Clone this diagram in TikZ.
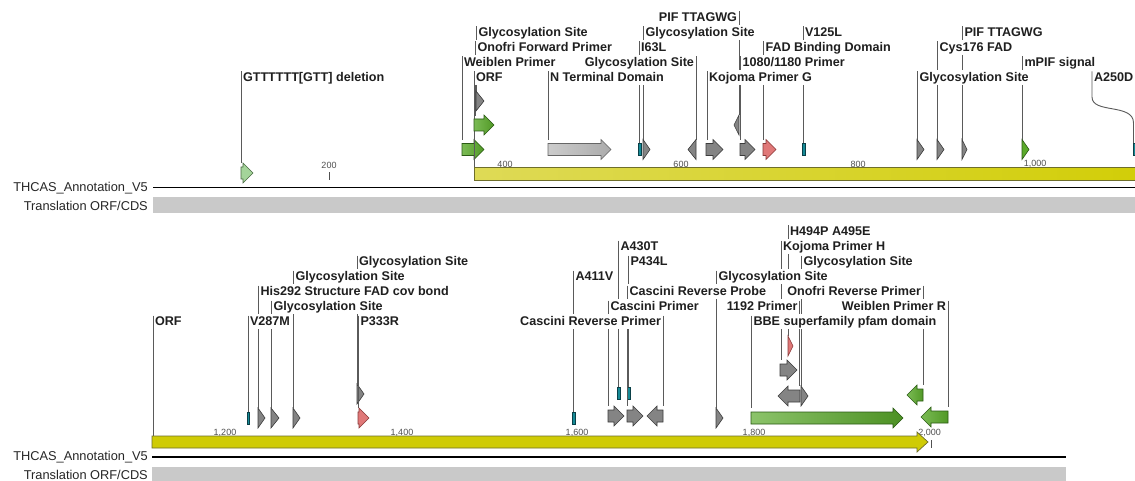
\documentclass[tikz,border=0pt]{standalone}
\usepackage{fontspec}
\setmainfont{Liberation Sans}
\definecolor{leadc}{HTML}{5A5A5A}
\definecolor{gfill}{HTML}{848484}
\definecolor{gdraw}{HTML}{3C3C3C}
\definecolor{grfill}{HTML}{5AAA2A}
\definecolor{grdraw}{HTML}{2A5A14}
\definecolor{rfill}{HTML}{E07878}
\definecolor{rdraw}{HTML}{8A3A3A}
\definecolor{tfill}{HTML}{168A96}
\definecolor{tdraw}{HTML}{0A4048}
\definecolor{lgfill}{HTML}{A4D49A}
\definecolor{lgdraw}{HTML}{4A6A44}
\definecolor{ybord}{HTML}{6E6E2A}
\definecolor{scalec}{HTML}{505050}
\tikzset{
  lead/.style={draw=leadc, line width=0.9pt},
  lab/.style={font=\bfseries\fontsize{12.6}{14}\selectfont, inner sep=0.4pt,
    text height=9.5pt, text depth=2.8pt, text=black!88},
  tracklab/.style={font=\fontsize{12.8}{15}\selectfont, anchor=east, inner sep=0pt, text=black!85},
  scalelab/.style={font=\fontsize{9}{10}\selectfont, text=scalec, inner sep=0pt},
  fgrey/.style={fill=gfill, draw=gdraw, line width=0.6pt},
  flgrey/.style={left color=black!20, right color=black!33, draw=black!60, line width=0.6pt},
  fgreen/.style={left color=grfill!80!white, right color=grfill!90!black, draw=grdraw, line width=0.6pt},
  fbbe/.style={left color=grfill!70!white, right color=grfill!85!black, draw=grdraw, line width=0.6pt},
  fmgreen/.style={fill=grfill, draw=grdraw, line width=0.6pt},
  fred/.style={fill=rfill, draw=rdraw, line width=0.6pt},
  fteal/.style={fill=tfill, draw=tdraw, line width=0.5pt},
  flgreen/.style={fill=lgfill, draw=lgdraw, line width=0.6pt},
  ybar/.style={draw=ybord, line width=0.7pt},
}
% forward arrow: x1, x2(tip), yc, style
\newcommand\fwd[4]{%
  \pgfmathsetmacro\hl{min(10,#2-#1)}%
  \draw[#4] (#1,#3-6) -- ({#2-\hl},#3-6) -- ({#2-\hl},#3-10) -- (#2,#3)
    -- ({#2-\hl},#3+10) -- ({#2-\hl},#3+6) -- (#1,#3+6) -- cycle;}
% reverse arrow: x1(tip), x2, yc, style
\newcommand\rev[4]{%
  \pgfmathsetmacro\hl{min(10,#2-#1)}%
  \draw[#4] (#2,#3-6) -- ({#1+\hl},#3-6) -- ({#1+\hl},#3-10) -- (#1,#3)
    -- ({#1+\hl},#3+10) -- ({#1+\hl},#3+6) -- (#2,#3+6) -- cycle;}
% vertical leader with gaps behind label rows: x, ytop, yend, gap rows
\newcommand\vlead[4]{%
  \def\gaplist{#4}%
  \ifx\gaplist\empty
    \draw[lead] (#1,#2) -- (#1,#3);
  \else
    \xdef\cury{#2}%
    \foreach \r in \gaplist {%
      \pgfmathsetmacro\ya{\r-7}\pgfmathsetmacro\yb{\r+8}%
      \draw[lead] (#1,\cury) -- (#1,\ya);
      \xdef\cury{\yb}}%
    \draw[lead] (#1,\cury) -- (#1,#3);
  \fi}
% label, tick on the left: name, x, row, end y, text, gap rows
\newcommand\leadL[6]{%
  \pgfmathsetmacro\ytop{#3-5.5}\vlead{#2}{\ytop}{#4}{#6}%
  \node[lab,anchor=base west] (#1) at (#2+1.4,#3+4.5) {#5};}
% label, tick on the right
\newcommand\leadR[6]{%
  \pgfmathsetmacro\ytop{#3-5.5}\vlead{#2}{\ytop}{#4}{#6}%
  \node[lab,anchor=base east] (#1) at (#2-1.4,#3+4.5) {#5};}
\newcommand\tealbox[3]{\draw[fteal] (#1,#3-6) rectangle (#2,#3+6);}

\begin{document}
\begin{tikzpicture}[x=1pt,y=-1pt]
\useasboundingbox (0,0) rectangle (1135,481);
\fill[white] (0,0) rectangle (1135,481);

% scale labels (bars overlap their lower edge)
\node[scalelab] (s200) at (329,165) {200};
\node[scalelab] (s400) at (505,164) {400};
\node[scalelab] (s600) at (681,164) {600};
\node[scalelab] (s800) at (858,164) {800};
\node[scalelab] (s1000) at (1035,164) {1,000};
\draw[scalec, line width=0.8pt] (329,172.5) -- (329,180);
\node[scalelab] (s1200) at (225,433) {1,200};
\node[scalelab] (s1400) at (402,433) {1,400};
\node[scalelab] (s1600) at (577,433) {1,600};
\node[scalelab] (s1800) at (754,433) {1,800};
\node[scalelab] (s2000) at (929.5,433) {2,000};
\draw[scalec, line width=0.8pt] (931,440) -- (931,447.5);

% ---- top track
\leadL{t1}{241}{77}{163}{GTTTTTT[GTT] deletion}{}
\fwd{241}{253}{173}{flgreen}
\leadL{t2}{462}{62}{140}{Weiblen Primer}{}
\fwd{462}{484}{149.5}{fgreen}
\leadL{t3}{474}{77}{180}{ORF}{}
\leadL{t4}{475.5}{47}{116}{Onofri Forward Primer}{62,77}
\fwd{474}{494}{125}{fgreen}
\leadL{t5}{476.5}{32}{92}{Glycosylation Site}{47,62,77}
\fwd{476}{484}{101}{fgrey}
\leadL{t6}{548}{77}{140}{N Terminal Domain}{}
\fwd{548}{611}{149.5}{flgrey}
\leadL{t7}{639}{47}{143.5}{I63L}{62,77}
\tealbox{638}{641}{149.5}
\leadL{t8}{643.5}{32}{140}{Glycosylation Site}{47,62,77}
\fwd{643}{650}{149.5}{fgrey}
\leadR{t9}{696}{62}{140}{Glycosylation Site}{}
\rev{688}{696}{149.5}{fgrey}
\leadL{t10}{707}{77}{140}{Kojoma Primer G}{}
\fwd{706}{723}{149.5}{fgrey}
\leadR{t11}{739}{17}{115}{PIF TTAGWG}{32,77}
\rev{734}{739}{125}{fgrey}
\leadL{t12}{740.5}{62}{140}{1080/1180 Primer}{77}
\fwd{740}{755}{149.5}{fgrey}
\leadL{t13}{763.5}{47}{140}{FAD Binding Domain}{62,77}
\fwd{763}{776}{149.5}{fred}
\leadL{t14}{803}{32}{143.5}{V125L}{47,62,77}
\tealbox{802}{805}{149.5}
\leadL{t15}{917.5}{77}{140}{Glycosylation Site}{}
\fwd{917}{924}{149.5}{fgrey}
\leadL{t16}{937.5}{47}{140}{Cys176 FAD}{77}
\fwd{937}{944}{149.5}{fgrey}
\leadL{t17}{962.5}{32}{140}{PIF TTAGWG}{47,77}
\fwd{962}{967}{149.5}{fgrey}
\leadL{t18}{1022.5}{62}{140}{mPIF signal}{77}
\fwd{1022}{1029}{149.5}{fmgreen}
\draw[lead] (1092,71.5) -- (1092,97) .. controls (1092,114) and (1133.5,103) .. (1133.5,123) -- (1133.5,143.5);
\node[lab,anchor=base west] (t19) at (1093.4,81.5) {A250D};
\tealbox{1133}{1137}{149.5}

% ---- bottom track
\leadL{b1}{153}{321}{448}{ORF}{}
\leadL{b2}{248}{321}{412}{V287M}{}
\tealbox{247}{249.5}{418}
\leadL{b3}{258.5}{291}{408}{His292 Structure FAD cov bond}{321}
\fwd{258}{265}{418}{fgrey}
\leadL{b4}{271.5}{306}{408}{Glycosylation Site}{321}
\fwd{271}{279}{418}{fgrey}
\leadL{b5}{293.5}{276}{408}{Glycosylation Site}{291,306}
\fwd{293}{300}{418}{fgrey}
\leadL{b6}{357}{261}{384}{Glycosylation Site}{276,291,306}
\fwd{357}{364}{394}{fgrey}
\leadL{b7}{358.5}{321}{408}{P333R}{}
\fwd{358}{369}{418}{fred}
\leadL{b8}{573.5}{276}{412}{A411V}{321}
\tealbox{572.5}{575.5}{418}
\leadR{b9}{663}{321}{406}{Cascini Reverse Primer}{}
\rev{647}{663}{416}{fgrey}
\leadL{b10}{608.5}{306}{406}{Cascini Primer}{321}
\fwd{608}{624}{416}{fgrey}
\leadL{b11}{618.5}{246}{387}{A430T}{306,321}
\tealbox{617.5}{620.5}{393}
\leadL{b12}{628.5}{261}{387}{P434L}{291,306,321}
\tealbox{627.5}{630.5}{393}
\leadL{b13}{627.5}{291}{406}{Cascini Reverse Probe}{306,321}
\fwd{627}{643}{416}{fgrey}
\leadL{b14}{716.5}{276}{408}{Glycosylation Site}{291}
\fwd{716}{723}{418}{fgrey}
\leadR{b15}{799.5}{306}{386}{1192 Primer}{321}
\rev{778}{800}{396}{fgrey}
\leadL{b16}{751.5}{321}{408}{BBE superfamily pfam domain}{}
\fwd{751}{903}{418}{fbbe}
\leadL{b17}{788}{231}{336}{H494P A495E}{246,276,291,306,321}
\fwd{788}{793}{346}{fred}
\leadL{b18}{781}{246}{360}{Kojoma Primer H}{276,306,321}
\fwd{780}{797}{370}{fgrey}
\leadL{b19}{801.5}{261}{386}{Glycosylation Site}{276,291,321}
\fwd{801}{808}{396}{fgrey}
\leadR{b20}{923}{291}{385}{Onofri Reverse Primer}{306,321}
\rev{907}{923}{395}{fgreen}
\leadR{b21}{948}{306}{407}{Weiblen Primer R}{}
\rev{921}{948}{417}{fgreen}

% top sequence bar (ORF)
\draw[ybar, left color={rgb,255:red,222;green,218;blue,86}, right color={rgb,255:red,210;green,206;blue,8}]
  (474,167.5) rectangle (1140,180.5);
\draw[black, line width=1.8pt] (153,187.5) -- (1135,187.5);
\fill[black!21] (153,197) rectangle (1135,213);
\node[tracklab] (tr1) at (148,188) {THCAS\_Annotation\_V5};
\node[tracklab] (tr2) at (148,205.5) {Translation ORF/CDS};

% bottom sequence bar (ORF) as arrow
\draw[ybar, fill={rgb,255:red,207;green,203;blue,5}]
  (152,436) -- (917,436) -- (917,432) -- (928,442) -- (917,452) -- (917,448) -- (152,448) -- cycle;
\draw[black, line width=1.8pt] (152,457) -- (1066,457);
\fill[black!21] (152,467) rectangle (1066,483);
\node[tracklab] (tr3) at (148,457.5) {THCAS\_Annotation\_V5};
\node[tracklab] (tr4) at (148,475) {Translation ORF/CDS};
\end{tikzpicture}
\end{document}
